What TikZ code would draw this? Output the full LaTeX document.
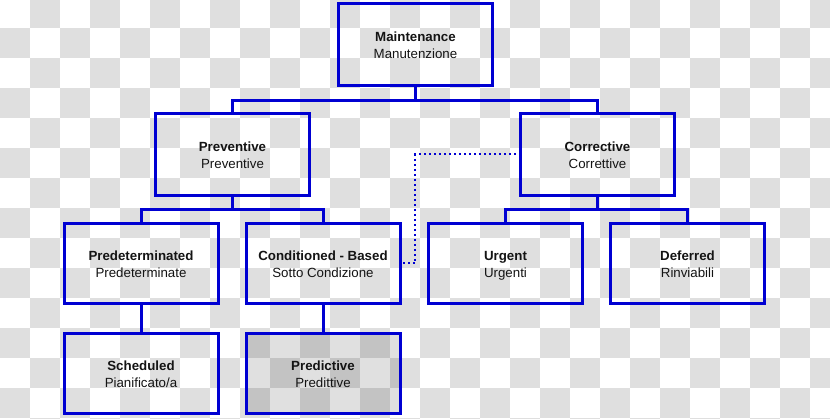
\documentclass[tikz,border=0pt]{standalone}
\usepackage{fontspec}
\setmainfont{Liberation Sans}
\definecolor{lineblue}{RGB}{0,0,210}
\definecolor{checkgray}{RGB}{223,223,223}
\definecolor{textgray}{RGB}{20,20,20}
\newcommand{\twolines}[2]{\strut\textbf{#1}\\\smash{#2}\rule[-0.5pt]{0pt}{1pt}}
\begin{document}
\begin{tikzpicture}[x=1pt,y=-1pt,
  box/.style={draw=lineblue, line width=3pt, outer sep=0pt, minimum width=154pt,
    align=center, font=\fontsize{13.3}{17}\selectfont, inner sep=0pt, text=textgray},
  tall/.style={minimum height=82pt},
  short/.style={minimum height=80pt},
  conn/.style={draw=lineblue, line width=3pt},
  dotconn/.style={draw=lineblue, line width=2pt, dash pattern=on 2pt off 3pt}]
\useasboundingbox (0,0) rectangle (830,419);
\begin{scope}
\clip (0,0) rectangle (830,419);
\fill[white] (0,0) rectangle (830,419);
\foreach \i in {0,...,27}{
  \foreach \j in {0,...,14}{
    \pgfmathtruncatemacro\myparity{mod(\i+\j,2)}
    \ifnum\myparity=1
      \fill[checkgray] (\i*30,\j*30-1.5) rectangle ++(30,30);
    \fi
  }
}
\end{scope}
\node[box,tall] (maint) at (415.5,44.5) {\twolines{Maintenance}{Manutenzione}};
\node[box,tall] (prev) at (232.5,154.5) {\twolines{Preventive}{Preventive}};
\node[box,tall] (corr) at (597.5,154.5) {\twolines{Corrective}{Correttive}};
\node[box,short] (pred) at (141,263.5) {\twolines{Predeterminated}{Predeterminate}};
\node[box,short] (cond) at (323,263.5) {\twolines{Conditioned - Based}{Sotto Condizione}};
\node[box,short] (urg) at (505.5,263.5) {\twolines{Urgent}{Urgenti}};
\node[box,short] (def) at (687.5,263.5) {\twolines{Deferred}{Rinviabili}};
\node[box,short] (sched) at (141,373.5) {\twolines{Scheduled}{Pianificato/a}};
\node[box,short,fill=black,fill opacity=0.12,text opacity=1] (predict) at (323,373.5) {\twolines{Predictive}{Predittive}};
\draw[conn] (maint.south) -- ++(0,15) -| (prev.north);
\draw[conn] (maint.south) -- ++(0,15) -| (corr.north);
\draw[conn] (prev.south) -- ++(0,14) -| (pred.north);
\draw[conn] (prev.south) -- ++(0,14) -| (cond.north);
\draw[conn] (corr.south) -- ++(0,14) -| (urg.north);
\draw[conn] (corr.south) -- ++(0,14) -| (def.north);
\draw[conn] (pred.south) -- (sched.north);
\draw[conn] (cond.south) -- (predict.north);
\coordinate (dk) at (415,263.5);
\draw[dotconn] (corr.west) -| (dk) -- (cond.east);
\end{tikzpicture}
\end{document}
